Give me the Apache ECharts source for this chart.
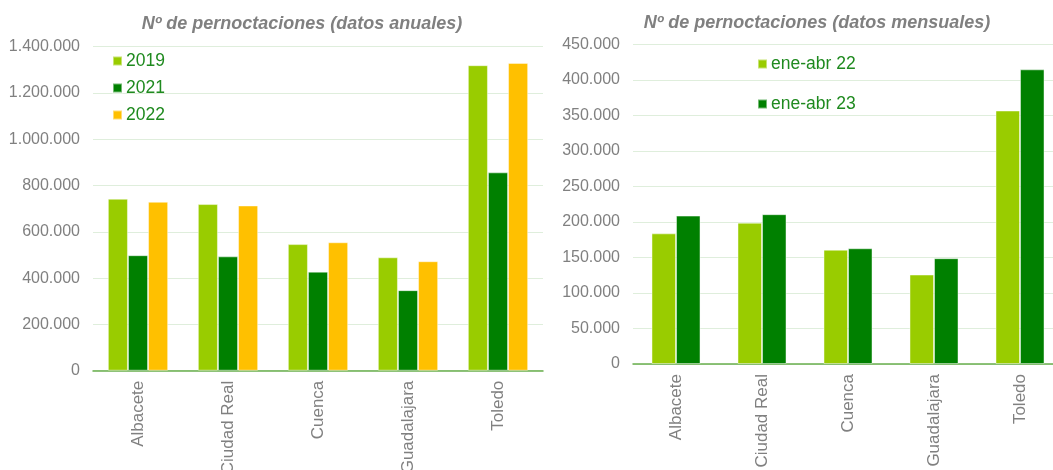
<!DOCTYPE html>
<html>
<head>
<meta charset="utf-8">
<script src="https://cdn.jsdelivr.net/npm/echarts@6/dist/echarts.min.js"></script>
<style>
  html, body { margin: 0; padding: 0; background: #fff; }
  #chart { width: 1053px; height: 470px; }
</style>
</head>
<body>
<div id="chart"></div>
<script>
// datos
var provincias = ['Albacete', 'Ciudad Real', 'Cuenca', 'Guadalajara', 'Toledo'];
var anual2019 = [743000, 720000, 547000, 490000, 1320000];
var anual2021 = [499000, 494000, 428000, 348000, 857000];
var anual2022 = [730000, 714000, 555000, 473000, 1330000];
var mensual22 = [184000, 199000, 161000, 126000, 357000];
var mensual23 = [209000, 211000, 163000, 149000, 415000];

var FONT = '"Liberation Sans", Arial, sans-serif';
var GRIS = '#808080';

function miles(v) {
  return String(v).replace(/\B(?=(\d{3})+(?!\d))/g, '.');
}

function ejeX(idx) {
  return {
    type: 'category',
    gridIndex: idx,
    data: provincias,
    axisTick: { show: false },
    axisLine: { show: true, lineStyle: { color: '#6aae4e', width: 1.5 } },
    axisLabel: { rotate: 90, margin: 10, fontSize: 17, color: GRIS, fontFamily: FONT }
  };
}

function ejeY(idx, max, interval) {
  return {
    type: 'value',
    gridIndex: idx,
    min: 0,
    max: max,
    interval: interval,
    axisLine: { show: false },
    axisTick: { show: false },
    splitLine: { lineStyle: { color: '#dfeedc', width: 1.2 } },
    axisLabel: { margin: 13, fontSize: 16, color: GRIS, fontFamily: FONT, formatter: miles }
  };
}

function barra(nombre, datos, color, idx, gap) {
  return {
    name: nombre,
    type: 'bar',
    xAxisIndex: idx,
    yAxisIndex: idx,
    data: datos,
    barGap: '0%',
    barCategoryGap: gap,
    itemStyle: { color: color, borderColor: 'rgba(255,255,255,0.45)', borderWidth: 1 }
  };
}

var chart = echarts.init(document.getElementById('chart'));
var option = {
  backgroundColor: '#fff',
  animation: false,
  title: [
    {
      text: 'Nº de pernoctaciones (datos anuales)',
      left: 297, top: 10, textAlign: 'center',
      textStyle: { fontSize: 18, fontWeight: 'bold', fontStyle: 'italic', color: GRIS, fontFamily: FONT }
    },
    {
      text: 'Nº de pernoctaciones (datos mensuales)',
      left: 812, top: 9, textAlign: 'center',
      textStyle: { fontSize: 18, fontWeight: 'bold', fontStyle: 'italic', color: GRIS, fontFamily: FONT }
    }
  ],
  legend: [
    {
      data: ['2019', '2021', '2022'],
      orient: 'vertical',
      left: 112, top: 52, padding: 0,
      itemWidth: 9, itemHeight: 9, itemGap: 9,
      icon: 'rect',
      textStyle: { fontSize: 17.5, color: '#1f8a1f', fontFamily: FONT, padding: [0, 0, 0, -1] }
    },
    {
      data: ['ene-abr 22', 'ene-abr 23'],
      orient: 'vertical',
      left: 757, top: 55, padding: 0,
      itemWidth: 9, itemHeight: 9, itemGap: 22,
      icon: 'rect',
      textStyle: { fontSize: 17.5, color: '#1f8a1f', fontFamily: FONT, padding: [0, 0, 0, -1] }
    }
  ],
  grid: [
    { left: 93, top: 46.7, width: 450, height: 324, outerBoundsMode: 'none' },
    { left: 633, top: 44.5, width: 430, height: 319.5, outerBoundsMode: 'none' }
  ],
  xAxis: [ejeX(0), ejeX(1)],
  yAxis: [ejeY(0, 1400000, 200000), ejeY(1, 450000, 50000)],
  series: [
    barra('2019', anual2019, '#99cc00', 0, '33%'),
    barra('2021', anual2021, '#008000', 0, '33%'),
    barra('2022', anual2022, '#ffc000', 0, '33%'),
    barra('ene-abr 22', mensual22, '#99cc00', 1, '43%'),
    barra('ene-abr 23', mensual23, '#008000', 1, '43%')
  ]
};
chart.setOption(option);
</script>
</body>
</html>
